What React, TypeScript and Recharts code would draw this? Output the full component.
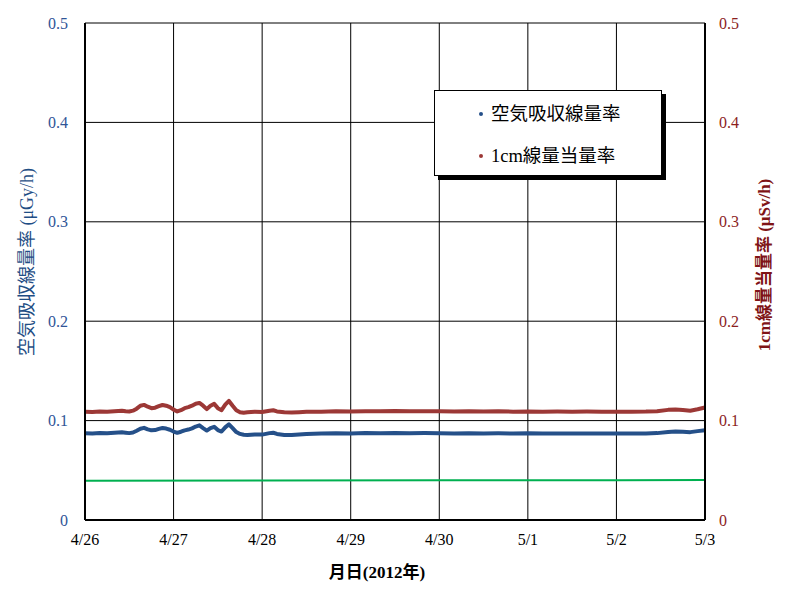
import React from 'react';
import { ComposedChart, Line, XAxis, YAxis, CartesianGrid, Legend } from 'recharts';

const dateLabels = ['4/26', '4/27', '4/28', '4/29', '4/30', '5/1', '5/2', '5/3'];
const dayTicks = [0, 24, 48, 72, 96, 120, 144, 168];
const yTicks = [0, 0.1, 0.2, 0.3, 0.4, 0.5];

// hours since 4/26 0:00
const hours = [
  0, 2, 4, 6, 8, 10, 11, 12, 13, 14, 15, 16, 17, 18, 19, 20, 21, 22, 23, 24, 25, 26, 27, 28, 29,
  30, 31, 32, 33, 34, 35, 36, 37, 38, 39, 40, 41, 42, 43, 44, 46, 48, 50, 51, 52, 54, 56, 58, 60,
  64, 68, 72, 76, 80, 84, 88, 92, 96, 100, 104, 108, 112, 116, 120, 124, 128, 132, 136, 140, 144, 148, 152,
  155, 158, 160, 162, 164, 166, 168,
];

const airDoseRate = [
  0.0872, 0.0870, 0.0875, 0.0873, 0.0877, 0.0882, 0.0878, 0.0874, 0.0880, 0.0898, 0.0918, 0.0927, 0.0912, 0.0902, 0.0905,
  0.0917, 0.0926, 0.0920, 0.0908, 0.0890, 0.0877, 0.0888, 0.0902, 0.0910, 0.0922, 0.0940, 0.0952, 0.0925, 0.0900, 0.0925,
  0.0938, 0.0905, 0.0890, 0.0932, 0.0963, 0.0925, 0.0885, 0.0866, 0.0857, 0.0856, 0.0861, 0.0859, 0.0874, 0.0878, 0.0866,
  0.0856, 0.0855, 0.0861, 0.0866,
  0.0869, 0.0872, 0.0871, 0.0874, 0.0872, 0.0875, 0.0873, 0.0874, 0.0872, 0.0871, 0.0873, 0.0871, 0.0872, 0.0870, 0.0872,
  0.0870, 0.0871, 0.0869, 0.0871, 0.0870, 0.0869, 0.0870, 0.0871,
  0.0874, 0.0886, 0.0890, 0.0887, 0.0884, 0.0894, 0.0903,
];

const doseEqRate = [
  0.1090, 0.1087, 0.1092, 0.1089, 0.1094, 0.1100, 0.1094, 0.1091, 0.1100, 0.1120, 0.1150, 0.1158, 0.1140, 0.1125, 0.1130,
  0.1145, 0.1157, 0.1150, 0.1135, 0.1110, 0.1092, 0.1105, 0.1125, 0.1135, 0.1150, 0.1170, 0.1178, 0.1150, 0.1115, 0.1150,
  0.1168, 0.1125, 0.1105, 0.1160, 0.1198, 0.1150, 0.1105, 0.1085, 0.1079, 0.1084, 0.1090, 0.1087, 0.1100, 0.1104, 0.1092,
  0.1083, 0.1081, 0.1085, 0.1088,
  0.1090, 0.1093, 0.1091, 0.1095, 0.1093, 0.1096, 0.1094, 0.1095, 0.1093, 0.1092, 0.1094, 0.1091, 0.1093, 0.1090, 0.1092,
  0.1090, 0.1091, 0.1089, 0.1091, 0.1090, 0.1089, 0.1090, 0.1091,
  0.1095, 0.1108, 0.1112, 0.1107, 0.1100, 0.1114, 0.1132,
];

const greenHours = [0, 48, 96, 144, 168];
const greenLevel = [0.0396, 0.0397, 0.0399, 0.0401, 0.0402];

const seriesNames = ['空気吸収線量率', '1cm線量当量率'];

const BLUE = '#255089';
const RED = '#9c3836';
const GREEN = '#00b050';
const FONT = "'Liberation Serif', 'Noto Sans CJK JP', serif";

const data = hours.map((t, i) => ({ t, air: airDoseRate[i], eq: doseEqRate[i] }));
const greenData = greenHours.map((t, i) => ({ t, g: greenLevel[i] }));

const LegendBox = () => (
  <div
    style={{
      position: 'relative',
      width: 226,
      height: 84,
      border: '1px solid #000',
      background: '#fff',
      boxShadow: '4px 4px 0 #000',
      fontFamily: FONT,
      fontSize: 18.5,
      color: '#000',
    }}
  >
    {seriesNames.map((name, i) => (
      <div key={name} style={{ position: 'absolute', left: 0, top: i === 0 ? 11 : 53, height: 24, width: 226 }}>
        <span
          style={{
            position: 'absolute',
            left: 44,
            top: 10,
            width: 4,
            height: 4,
            borderRadius: 2,
            background: i === 0 ? BLUE : RED,
          }}
        />
        <span style={{ position: 'absolute', left: 56, top: 0, lineHeight: '24px', whiteSpace: 'nowrap' }}>{name}</span>
      </div>
    ))}
  </div>
);

const LeftTitle = () => (
  <text
    x={27}
    y={262}
    transform="rotate(-90 27 262)"
    textAnchor="middle"
    dominantBaseline="central"
    fill="#1f4e85"
    fontSize={18}
    fontFamily={FONT}
  >
    空気吸収線量率 (μGy/h)
  </text>
);

const RightTitle = () => (
  <text
    x={764}
    y={265}
    transform="rotate(-90 764 265)"
    textAnchor="middle"
    dominantBaseline="central"
    fill="#7f1416"
    fontSize={17}
    fontWeight="bold"
    fontFamily={FONT}
  >
    1cm線量当量率 (μSv/h)
  </text>
);

const XTitle = () => (
  <text
    x={377}
    y={572}
    textAnchor="middle"
    dominantBaseline="central"
    fill="#000"
    fontSize={17}
    fontWeight="bold"
    fontFamily={FONT}
  >
    月日(2012年)
  </text>
);

export default function App() {
  return (
    <div style={{ position: 'absolute', left: 0, top: 0, width: 785, height: 591, background: '#fff' }}>
      <ComposedChart width={785} height={591} data={data} margin={{ top: 23, right: 0, bottom: 0, left: 0 }}>
        <CartesianGrid yAxisId="left" stroke="#000" strokeWidth={1} fill="#fff" />
        <XAxis
          dataKey="t"
          type="number"
          domain={[0, 168]}
          ticks={dayTicks}
          tickFormatter={(v: number) => dateLabels[dayTicks.indexOf(v)]}
          height={71}
          tickLine={false}
          tickSize={0}
          tickMargin={14}
          axisLine={{ stroke: '#000', strokeWidth: 2 }}
          tick={{ fill: '#000', fontSize: 16, fontFamily: FONT }}
          interval={0}
          allowDuplicatedCategory={false}
          label={<XTitle />}
        />
        <YAxis
          yAxisId="left"
          orientation="left"
          domain={[0, 0.5]}
          ticks={yTicks}
          width={85}
          tickLine={false}
          tickSize={0}
          tickMargin={17}
          axisLine={{ stroke: '#000', strokeWidth: 2 }}
          tick={{ fill: '#2f5597', fontSize: 16, fontFamily: FONT }}
          tickFormatter={(v: number) => String(v)}
          interval={0}
          label={<LeftTitle />}
        />
        <YAxis
          yAxisId="right"
          orientation="right"
          domain={[0, 0.5]}
          ticks={yTicks}
          width={80}
          tickLine={false}
          tickSize={0}
          tickMargin={14}
          axisLine={{ stroke: '#000', strokeWidth: 2 }}
          tick={{ fill: '#8b1e1e', fontSize: 16, fontFamily: FONT }}
          tickFormatter={(v: number) => String(v)}
          interval={0}
          label={<RightTitle />}
        />
        <Line
          yAxisId="left"
          data={greenData}
          dataKey="g"
          stroke={GREEN}
          strokeWidth={2}
          dot={false}
          isAnimationActive={false}
          legendType="none"
        />
        <Line
          yAxisId="left"
          dataKey="air"
          name={seriesNames[0]}
          stroke={BLUE}
          strokeWidth={4}
          strokeLinejoin="round"
          dot={false}
          isAnimationActive={false}
        />
        <Line
          yAxisId="right"
          dataKey="eq"
          name={seriesNames[1]}
          stroke={RED}
          strokeWidth={4}
          strokeLinejoin="round"
          dot={false}
          isAnimationActive={false}
        />
        <Legend
          layout="horizontal"
          verticalAlign="middle"
          align="center"
          content={<LegendBox />}
          wrapperStyle={{ position: 'absolute', left: 434, top: 90, width: 228, height: 86 }}
        />
      </ComposedChart>
    </div>
  );
}
